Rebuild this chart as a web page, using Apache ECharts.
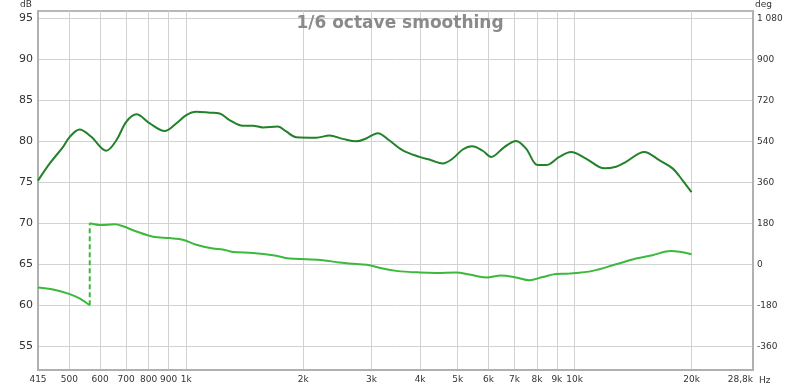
<!DOCTYPE html>
<html>
<head>
<meta charset="utf-8">
<script src="https://cdn.jsdelivr.net/npm/echarts@6/dist/echarts.min.js"></script>
<style>html,body{margin:0;padding:0;background:#fff}#c{width:800px;height:387px}</style>
</head>
<body>
<div id="c"></div>
<script>
// Frequency tick labels (Hz)
const tickFreqs = [415, 500, 600, 700, 800, 900, 1000, 2000, 3000, 4000, 5000, 6000, 7000, 8000, 9000, 10000, 20000, 28800];
const tickLabels = ['415', '500', '600', '700', '800', '900', '1k', '2k', '3k', '4k', '5k', '6k', '7k', '8k', '9k', '10k', '20k', '28,8k'];
const dbTicks = [55, 60, 65, 70, 75, 80, 85, 90, 95];
const degTicks = [-360, -180, 0, 180, 360, 540, 720, 900, 1080];

// SPL (dB)
const splFreq = [415, 445, 481, 501, 531, 569, 622, 660, 701, 744, 805, 879, 943, 1000, 1061, 1148, 1218, 1292, 1399, 1484, 1575, 1721, 1809, 1919, 2161, 2337, 2529, 2739, 2906, 3112, 3337, 3609, 3985, 4271, 4575, 4854, 5151, 5445, 5799, 6095, 6593, 7068, 7499, 8032, 8440, 9134, 9788, 10698, 11925, 12783, 13563, 15116, 16520, 17873, 18963, 20000];
const splDb = [75.2, 77.3, 79.3, 80.55, 81.45, 80.55, 78.85, 80.1, 82.4, 83.3, 82.2, 81.25, 82.2, 83.2, 83.6, 83.5, 83.4, 82.6, 81.9, 81.9, 81.7, 81.8, 81.2, 80.5, 80.45, 80.7, 80.3, 80.0, 80.35, 81.0, 80.1, 78.9, 78.1, 77.7, 77.3, 77.9, 79.0, 79.4, 78.85, 78.1, 79.3, 80.05, 79.1, 77.1, 77.1, 78.1, 78.7, 77.9, 76.7, 76.9, 77.5, 78.7, 77.7, 76.7, 75.25, 73.8];

// Phase (deg) - below wrap
const phaseLowFreq = [415, 454, 501, 531, 564];
const phaseLowDeg = [-102, -111, -131, -150, -180];
// Phase (deg) - above wrap
const phaseHighFreq = [564, 604, 654, 687, 744, 821, 906, 980, 1061, 1171, 1242, 1318, 1484, 1671, 1844, 2036, 2246, 2480, 2793, 2963, 3206, 3471, 3985, 4400, 4952, 5358, 5916, 6467, 7068, 7647, 8274, 8956, 9692, 11125, 12783, 14388, 15874, 17700, 20000];
const phaseHighDeg = [180, 172, 176, 167, 144, 121, 115, 108, 86, 69, 65, 54, 50, 40, 25, 22, 18, 8, 0, -4, -19, -29, -36, -38, -36, -45, -58, -49, -58, -70, -56, -43, -41, -29, 0, 25, 40, 58, 44];
// Phase wrap connector
const wrapFreq = [564, 564];
const wrapDeg = [-180, 180];

const lg = Math.log10;
const pairs = (fs, vs) => fs.map((f, i) => [lg(f), vs[i]]);
const labelOf = v => {
  for (let i = 0; i < tickFreqs.length; i++) if (Math.abs(lg(tickFreqs[i]) - v) < 1e-6) return tickLabels[i];
  return '';
};

const dbMin = 52.1, dbMax = 95.9;
const degMin = (dbMin - 65) * 36, degMax = (dbMax - 65) * 36;

const chart = echarts.init(document.getElementById('c'), null, {renderer: 'canvas'});
chart.setOption({
  animation: false,
  backgroundColor: '#ffffff',
  title: {
    text: '1/6 octave smoothing',
    left: 'center',
    top: 10,
    textStyle: {fontFamily: 'DejaVu Sans', fontWeight: 'bold', fontSize: 17, color: '#8a8a8a'}
  },
  grid: {left: 38, right: 47, top: 11, bottom: 17, show: true, borderColor: '#b8b8b8', borderWidth: 2, backgroundColor: 'transparent'},
  xAxis: {
    type: 'value',
    min: lg(415), max: lg(28800),
    name: 'Hz', nameLocation: 'end', nameGap: 5,
    nameTextStyle: {fontFamily: 'DejaVu Sans', fontSize: 9, color: '#333', verticalAlign: 'top', padding: [6, 0, 0, 0]},
    axisLine: {show: true, onZero: false, lineStyle: {color: '#b0b0b0', width: 2}},
    axisTick: {show: false, customValues: tickFreqs.map(lg)},
    splitLine: {show: true, lineStyle: {color: '#d2d2d2', width: 1}},
    axisLabel: {
      customValues: tickFreqs.map(lg),
      formatter: labelOf,
      fontFamily: 'DejaVu Sans', fontSize: 9, color: '#333', margin: 5,
      alignMaxLabel: 'right'
    }
  },
  yAxis: [
    {
      type: 'value', min: dbMin, max: dbMax, position: 'left',
      name: 'dB', nameLocation: 'end', nameGap: 2,
      nameTextStyle: {fontFamily: 'DejaVu Sans', fontSize: 9, color: '#333', align: 'right', padding: [0, 6, 0, 0]},
      axisLine: {show: true, onZero: false, lineStyle: {color: '#b0b0b0', width: 2}},
      axisTick: {show: false, customValues: dbTicks},
      splitLine: {show: true, lineStyle: {color: '#d2d2d2', width: 1}},
      axisLabel: {customValues: dbTicks, fontFamily: 'DejaVu Sans', fontSize: 11, color: '#333', margin: 5}
    },
    {
      type: 'value', min: degMin, max: degMax, position: 'right',
      name: 'deg', nameLocation: 'end', nameGap: 2,
      nameTextStyle: {fontFamily: 'DejaVu Sans', fontSize: 9, color: '#333', align: 'left', padding: [0, 0, 0, 2]},
      axisLine: {show: true, onZero: false, lineStyle: {color: '#b0b0b0', width: 2}},
      axisTick: {show: false, customValues: degTicks},
      splitLine: {show: false},
      axisLabel: {
        customValues: degTicks,
        formatter: v => String(v).replace(/\B(?=(\d{3})+(?!\d))/g, ' '),
        fontFamily: 'DejaVu Sans', fontSize: 9, color: '#333', margin: 4
      }
    }
  ],
  series: [
    {
      name: 'SPL', type: 'line', yAxisIndex: 0, data: pairs(splFreq, splDb),
      smooth: 0.35, showSymbol: false, symbol: 'none',
      lineStyle: {color: '#22822a', width: 2}
    },
    {
      name: 'Phase low', type: 'line', yAxisIndex: 1, data: pairs(phaseLowFreq, phaseLowDeg),
      smooth: 0.35, showSymbol: false, symbol: 'none',
      lineStyle: {color: '#3cb93c', width: 2}
    },
    {
      name: 'Phase high', type: 'line', yAxisIndex: 1, data: pairs(phaseHighFreq, phaseHighDeg),
      smooth: 0.35, showSymbol: false, symbol: 'none',
      lineStyle: {color: '#3cb93c', width: 2}
    },
    {
      name: 'Phase wrap', type: 'line', yAxisIndex: 1, data: pairs(wrapFreq, wrapDeg),
      showSymbol: false, symbol: 'none',
      lineStyle: {color: '#3cb93c', width: 2, type: [5, 3]}
    }
  ]
});
</script>
</body>
</html>
